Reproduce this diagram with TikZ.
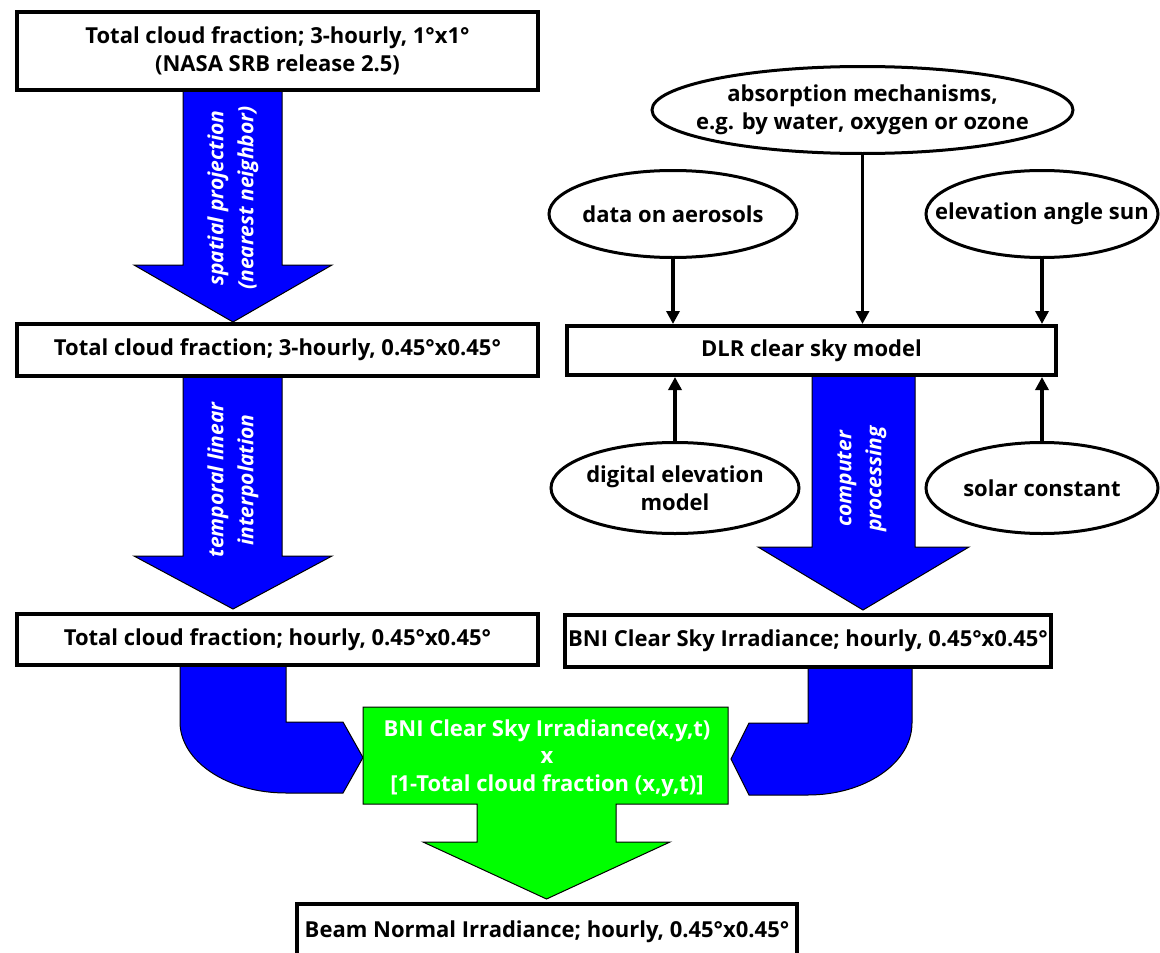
\documentclass[tikz,border=0pt]{standalone}
\usepackage{fontspec}
\setmainfont{Open Sans}
\usetikzlibrary{shapes.geometric,arrows.meta}
\definecolor{flowblue}{RGB}{0,0,255}
\definecolor{flowgreen}{RGB}{0,255,0}
\tikzset{
  txt/.style={font=\bfseries\fontsize{22}{27.5}\selectfont, align=center, inner sep=0pt},
  databox/.style={draw, line width=4pt, fill=white, inner sep=0pt, txt},
  oval/.style={draw, ellipse, line width=3pt, fill=white, inner sep=0pt},
  feed/.style={line width=3.5pt, -{Triangle[length=13pt,width=13pt]}},
  blockblue/.style={fill=flowblue, draw=black, line width=1pt, line join=miter},
  blockgreen/.style={fill=flowgreen, draw=black, line width=1pt, line join=miter},
  steplabel/.style={rotate=90, align=center, text=white, inner sep=0pt,
    font=\bfseries\itshape\fontsize{21}{30}\selectfont},
}
\begin{document}
\begin{tikzpicture}[x=1pt,y=-1pt]
\useasboundingbox (0,0) rectangle (1160,953);
\fill[white] (0,0) rectangle (1160,953);

% broad process arrows of the cloud branch
\path[blockblue] (183,88) -- (183,265) -- (134,265) -- (233,322) -- (332,265) -- (282,265) -- (282,88) -- cycle;
\path[blockblue] (183,375) -- (183,556) -- (134,556) -- (233,609) -- (332,556) -- (282,556) -- (282,375) -- cycle;
% broad process arrow of the clear sky branch
\path[blockblue] (812,375) -- (812,547) -- (758,547) -- (863,610) -- (969,547) -- (915,547) -- (915,375) -- cycle;
% bent arrows into the combination step
\path[blockblue] (180,665) -- (180,722) .. controls (180,761.2) and (227.5,793) .. (286,793)
  -- (343,793) -- (363,757.5) -- (343,722) -- (286,722) -- (286,665) -- cycle;
\path[blockblue] (912,667) -- (912,723) .. controls (912,762.8) and (865.4,795) .. (808,795)
  -- (749,795) -- (731,759) -- (749,723) -- (808,723) -- (808,667) -- cycle;
% combination step with its outgoing arrow
\path[blockgreen] (363,707) -- (728,707) -- (728,804) -- (616,804) -- (616,842) -- (670,842)
  -- (546.5,899) -- (423,842) -- (477,842) -- (477,804) -- (363,804) -- cycle;
\node[txt, text=white] (mix) at (547,758)
  {BNI Clear Sky Irradiance(x,y,t)\\x\\{[}1-Total cloud fraction (x,y,t)]};

% labels on the process arrows
\node[steplabel] (proj) at (233,198) {spatial projection\\(nearest neighbor)};
\node[steplabel] (interp) at (233,480) {temporal linear\\interpolation};
\node[steplabel] (proc) at (862,479) {computer\\processing};

% data boxes
\node[databox, minimum width=521pt, minimum height=78pt] (srb) at (277.5,51)
  {Total cloud fraction; 3-hourly, 1°x1°\\(NASA SRB release 2.5)};
\node[databox, minimum width=521pt, minimum height=52pt] (tcf3) at (277.5,350)
  {Total cloud fraction; 3-hourly, 0.45°x0.45°};
\node[databox, minimum width=521pt, minimum height=51pt] (tcf1) at (277.5,639.5)
  {Total cloud fraction; hourly, 0.45°x0.45°};
\node[databox, minimum width=489pt, minimum height=49pt] (dlr) at (811.5,350.5)
  {DLR clear sky model};
\node[databox, minimum width=486pt, minimum height=52pt] (csi) at (808,641)
  {BNI Clear Sky Irradiance; hourly, 0.45°x0.45°};
\node[databox, minimum width=500pt, minimum height=56pt] (bni) at (547,932)
  {Beam Normal Irradiance; hourly, 0.45°x0.45°};

% model inputs
\node[oval, minimum width=421pt, minimum height=87pt] (absn) at (862.5,110) {};
\node[txt] (absnT) at (absn) {absorption mechanisms,\\e.g. by water, oxygen or ozone};
\node[oval, minimum width=248pt, minimum height=87pt] (aer) at (673,214) {};
\node[txt] (aerT) at (aer) {data on aerosols};
\node[oval, minimum width=232pt, minimum height=87pt] (sun) at (1042,214) {};
\node[txt] (sunT) at (sun) {elevation angle sun};
\node[oval, minimum width=248pt, minimum height=91pt] (dem) at (675,488) {};
\node[txt] (demT) at (dem) {digital elevation\\model};
\node[oval, minimum width=232pt, minimum height=91pt] (sol) at (1042,488) {};
\node[txt] (solT) at (sol) {solar constant};

% input arrows into the clear sky model
\draw[feed] (aer.south) -- (aer.south |- dlr.north);
\draw[feed] (absn.south) -- (absn.south |- dlr.north);
\draw[feed] (sun.south) -- (sun.south |- dlr.north);
\draw[feed] (dem.north) -- (dem.north |- dlr.south);
\draw[feed] (sol.north) -- (sol.north |- dlr.south);
\end{tikzpicture}
\end{document}
